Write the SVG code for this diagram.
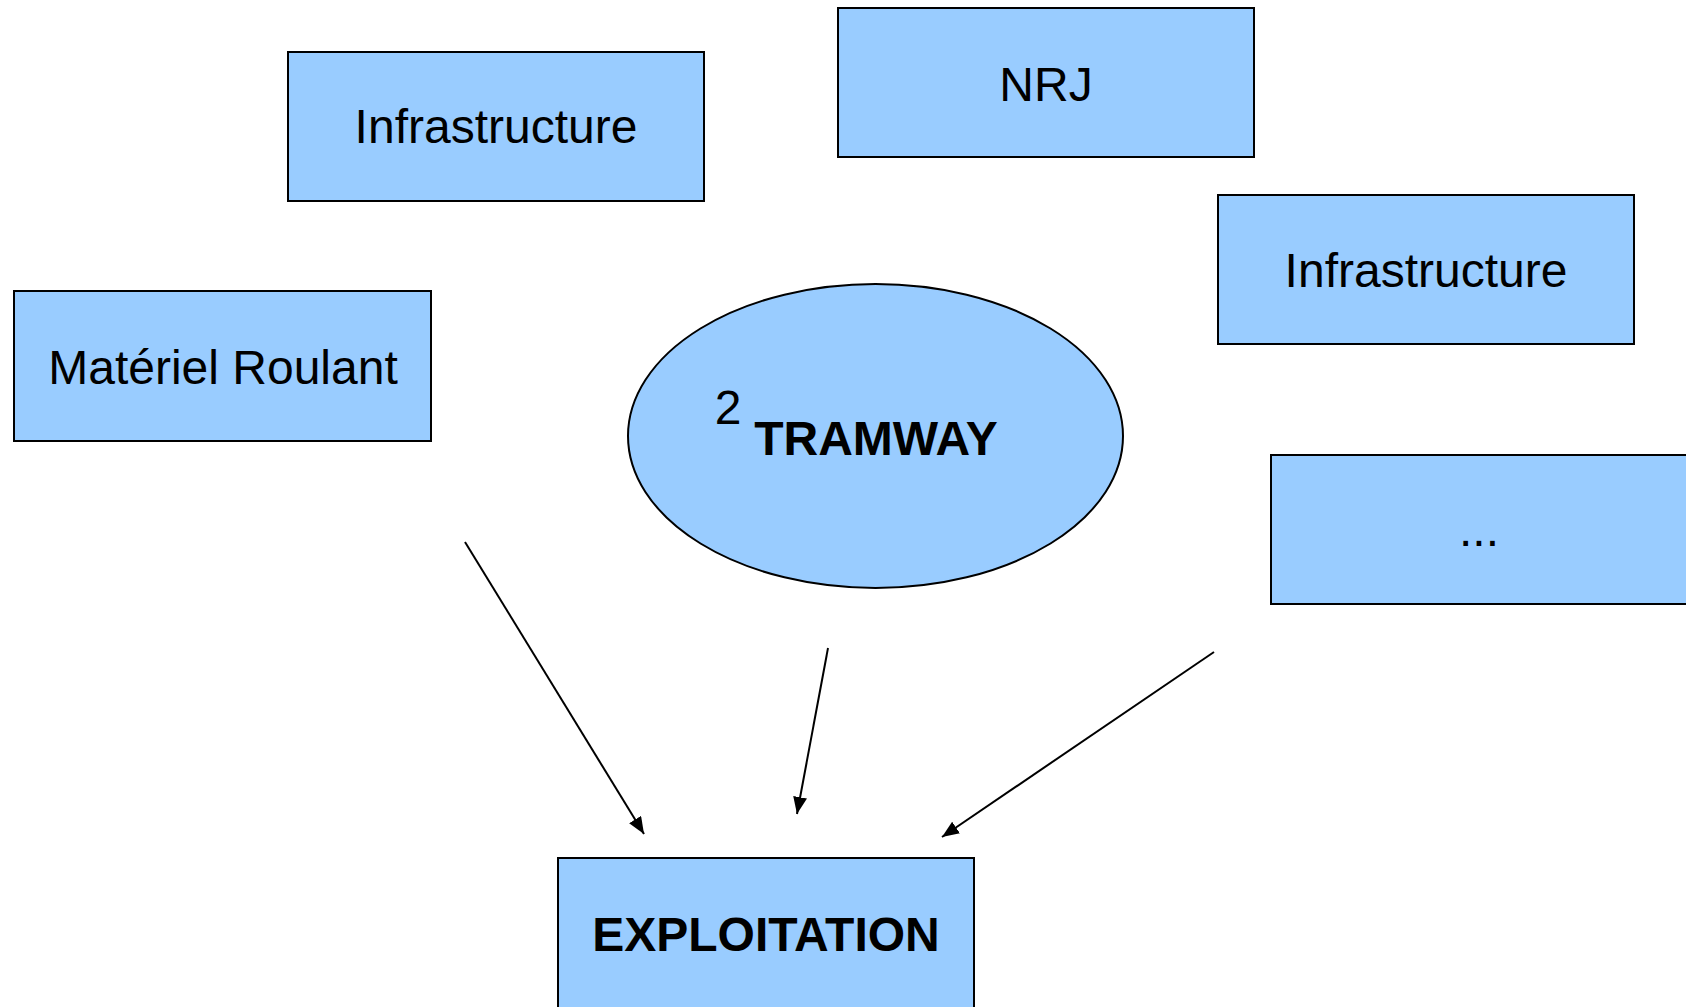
<svg xmlns="http://www.w3.org/2000/svg" width="1686" height="1007" viewBox="0 0 1686 1007">
  <style>
    .box { fill: #99CCFF; stroke: #000; stroke-width: 2; }
    .lbl { font-family: "Liberation Sans", Arial, sans-serif; font-size: 48px; fill: #000; text-anchor: middle; }
    .bold { font-weight: bold; font-size: 48px; }
    .conn { stroke: #000; stroke-width: 2; fill: none; marker-end: url(#arrow); }
  </style>
  <defs>
    <marker id="arrow" markerUnits="userSpaceOnUse" markerWidth="18" markerHeight="15" refX="17" refY="7" orient="auto">
      <path d="M0,0 L17,7 L0,14 z" fill="#000"/>
    </marker>
  </defs>
  <rect width="1686" height="1007" fill="#fff"/>
  <g id="infrastructure-1">
    <rect class="box" x="288" y="52" width="416" height="149"/>
    <text class="lbl" x="496" y="143">Infrastructure</text>
  </g>
  <g id="nrj">
    <rect class="box" x="838" y="8" width="416" height="149"/>
    <text class="lbl" x="1046" y="101">NRJ</text>
  </g>
  <g id="infrastructure-2">
    <rect class="box" x="1218" y="195" width="416" height="149"/>
    <text class="lbl" x="1426" y="287">Infrastructure</text>
  </g>
  <g id="materiel-roulant">
    <rect class="box" x="14" y="291" width="417" height="150"/>
    <text class="lbl" x="223" y="384">Matériel Roulant</text>
  </g>
  <g id="tramway">
    <ellipse class="box" cx="875.5" cy="436" rx="247.5" ry="152"/>
    <text class="lbl" x="728" y="424">2</text>
    <text class="lbl bold" x="876" y="455">TRAMWAY</text>
  </g>
  <g id="etc">
    <rect class="box" x="1271" y="455" width="420" height="149"/>
    <text class="lbl" x="1479" y="546">...</text>
  </g>
  <g id="exploitation">
    <rect class="box" x="558" y="858" width="416" height="155"/>
    <text class="lbl bold" x="766" y="951">EXPLOITATION</text>
  </g>
  <g id="connectors">
    <line class="conn" x1="465" y1="542" x2="644" y2="834"/>
    <line class="conn" x1="828" y1="648" x2="797" y2="814"/>
    <line class="conn" x1="1214" y1="652" x2="942" y2="837"/>
  </g>
</svg>
